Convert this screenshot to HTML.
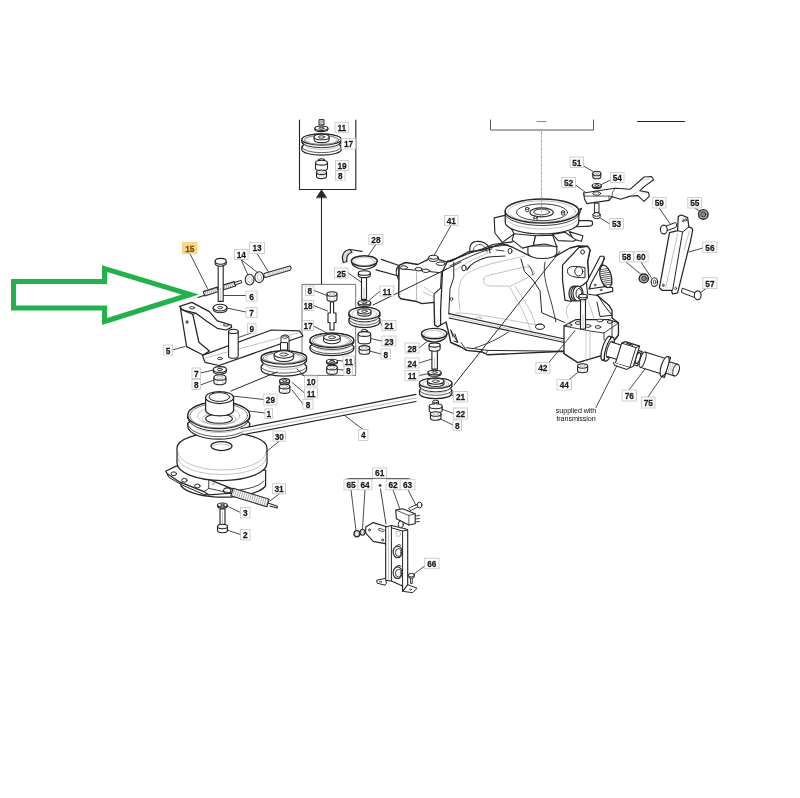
<!DOCTYPE html>
<html><head><meta charset="utf-8"><style>
html,body{margin:0;padding:0;background:#fff;}
svg{display:block;}
text{font-family:"Liberation Sans",sans-serif;font-weight:bold;font-size:9.9px;fill:#1a1a1a;stroke:#1a1a1a;stroke-width:0.25px;letter-spacing:-0.1px;}
.s{font-weight:normal;font-size:7.2px;fill:#111;letter-spacing:-0.1px;stroke:none;}
</style></head><body>
<svg width="800" height="798" viewBox="0 0 800 798">
<rect width="800" height="798" fill="#fff"/>
<g fill="#fff" stroke="#262626" stroke-width="1" stroke-linejoin="round" stroke-linecap="round">
<path d="M299.5,120 V189.5 H355.8 V120" fill="none" stroke="#262626" stroke-width="1.125" />
<path d="M321.5,284 L321.5,196" fill="none" stroke="#262626" stroke-width="1.1"/>
<path d="M316.5,197.5 L321.5,189.8 L326.5,197.5 Z" fill="#262626" stroke="#262626" stroke-width="0.625" />
<path d="M302,375 V284.4 H355.7 V375 Z" fill="none" stroke="#666" stroke-width="0.9" />
<path d="M490.5,120 V130 H593.5 V120" fill="none" stroke="#444" stroke-width="0.9" />
<path d="M537,121.5 L546,121.5" fill="none" stroke="#666" stroke-width="0.8"/>
<path d="M637.5,121.5 L684.6,121.5" fill="none" stroke="#262626" stroke-width="1.1"/>
<path d="M319,120 L319,125 L324,125 L324,120 Z" fill="#ccc" stroke="#262626" stroke-width="1.0" />
<path d="M319,121.5 L324,121.5 M319,123 L324,123" fill="none" stroke="#9a9a9a" stroke-width="0.6" />
<path d="M314.9,128.2 L314.9,129.4 A6.5,2.2 0 0 0 327.9,129.4 L327.9,128.2 Z" fill="#fff" stroke="#262626" stroke-width="1.125" /><ellipse cx="321.4" cy="128.2" rx="6.5" ry="2.2" fill="#fff" stroke="#262626" stroke-width="1.125" /><ellipse cx="321.4" cy="128.2" rx="2.6" ry="0.88" fill="#fff" stroke="#262626" stroke-width="0.875" />
<path d="M301.85,139.5 L301.85,142 L303.83,144.5 L301.85,147 L301.85,149.5 A19.75,5.65 0 0 0 341.35,149.5 L341.35,147 L339.38,144.5 L341.35,142 L341.35,139.5 A19.75,5.65 0 0 0 301.85,139.5 Z" fill="#fff" stroke="#262626" stroke-width="1.25" /><path d="M301.85,142 A19.75,5.65 0 0 0 341.35,142" fill="none" stroke="#262626" stroke-width="0.9375" /><path d="M303.83,144.5 A17.78,5.09 0 0 0 339.38,144.5" fill="none" stroke="#9a9a9a" stroke-width="0.6" /><path d="M301.85,147 A19.75,5.65 0 0 0 341.35,147" fill="none" stroke="#262626" stroke-width="0.75" /><ellipse cx="321.6" cy="139.5" rx="19.75" ry="5.65" fill="#fff" stroke="#262626" stroke-width="1.25" /><ellipse cx="321.6" cy="139.9" rx="17.55" ry="4.45" fill="none" stroke="#262626" stroke-width="0.5625" /><ellipse cx="321.6" cy="140.1" rx="15.8" ry="4.52" fill="none" stroke="#9a9a9a" stroke-width="0.6" /><path d="M314.1,137 L314.1,139.8 A7.5,2.83 0 0 0 329.11,139.8 L329.11,137 Z" fill="#fff" stroke="#262626" stroke-width="1.0625" /><ellipse cx="321.6" cy="137" rx="7.5" ry="2.83" fill="#fff" stroke="#262626" stroke-width="1.0625" /><ellipse cx="321.6" cy="137" rx="3.15" ry="1.19" fill="#fff" stroke="#262626" stroke-width="0.875" />
<path d="M318.5,160.1 L318.5,163 A3,1.4 0 0 0 324.5,163 L324.5,160.1 Z" fill="#fff" stroke="#262626" stroke-width="1.125" /><ellipse cx="321.5" cy="160.1" rx="3" ry="1.4" fill="#fff" stroke="#262626" stroke-width="1.125" />
<path d="M315.5,162.7 L315.5,168.3 A6,2.4 0 0 0 327.5,168.3 L327.5,162.7 Z" fill="#fff" stroke="#262626" stroke-width="1.125" /><ellipse cx="321.5" cy="162.7" rx="6" ry="2.4" fill="#fff" stroke="#262626" stroke-width="1.125" />
<path d="M316.5,172.3 L316.5,176.3 A5,2.3 0 0 0 326.5,176.3 L326.5,172.3 Z" fill="#fff" stroke="#262626" stroke-width="1.125" /><ellipse cx="321.5" cy="172.3" rx="5" ry="2.3" fill="#fff" stroke="#262626" stroke-width="1.125" /><ellipse cx="321.5" cy="172.3" rx="2.5" ry="1.15" fill="#fff" stroke="#9a9a9a" stroke-width="0.6" /><path d="M319.25,174.26 L319.25,178.26 M323.75,174.26 L323.75,178.26" fill="none" stroke="#9a9a9a" stroke-width="0.5" />
<path d="M198,297.5 L204,295.5" fill="none" stroke="#262626" stroke-width="1.25" />
<path d="M204.7,295.99 L218.7,291.49 L217.3,287.11 L203.3,291.61 Z" fill="#fff" stroke="#262626" stroke-width="1.125" />
<path d="M206,291.2 L205,295.4" fill="none" stroke="#555" stroke-width="0.5"/>
<path d="M208.1,290.53 L207.1,294.73" fill="none" stroke="#555" stroke-width="0.5"/>
<path d="M210.2,289.86 L209.2,294.06" fill="none" stroke="#555" stroke-width="0.5"/>
<path d="M212.3,289.19 L211.3,293.39" fill="none" stroke="#555" stroke-width="0.5"/>
<path d="M214.4,288.52 L213.4,292.72" fill="none" stroke="#555" stroke-width="0.5"/>
<path d="M216.5,287.85 L215.5,292.05" fill="none" stroke="#555" stroke-width="0.5"/>
<path d="M223.69,289.79 L235.69,285.99 L234.31,281.61 L222.31,285.41 Z" fill="#fff" stroke="#262626" stroke-width="1.125" />
<path d="M225,285 L224,289.2" fill="none" stroke="#555" stroke-width="0.5"/>
<path d="M227.1,284.33 L226.1,288.53" fill="none" stroke="#555" stroke-width="0.5"/>
<path d="M229.2,283.66 L228.2,287.86" fill="none" stroke="#555" stroke-width="0.5"/>
<path d="M231.3,282.99 L230.3,287.19" fill="none" stroke="#555" stroke-width="0.5"/>
<path d="M233.4,282.32 L232.4,286.52" fill="none" stroke="#555" stroke-width="0.5"/>
<path d="M235.35,284.75 L241.85,282.75 L241.15,280.45 L234.65,282.45 Z" fill="#fff" stroke="#262626" stroke-width="1.0" />
<path d="M218.2,264 L218.2,301.4 L223.2,301.4 L223.2,264 Z" fill="#fff" stroke="#262626" stroke-width="1.125" />
<path d="M220.7,288 L220.7,300" fill="none" stroke="#9a9a9a" stroke-width="0.6"/>
<path d="M215.2,261.3 L215.2,263.3 A5.5,2.9 0 0 0 226.2,263.3 L226.2,261.3 Z" fill="#fff" stroke="#262626" stroke-width="1.125" /><ellipse cx="220.7" cy="261.3" rx="5.5" ry="2.9" fill="#fff" stroke="#262626" stroke-width="1.125" />
<ellipse cx="249.6" cy="279.6" rx="4.4" ry="5.4" fill="#fff" stroke="#262626" stroke-width="1.125" /><ellipse cx="249.9" cy="279.8" rx="2.2" ry="3" fill="#fff" stroke="#9a9a9a" stroke-width="0.6" />
<ellipse cx="259.2" cy="277.2" rx="4.4" ry="5.4" fill="#fff" stroke="#262626" stroke-width="1.125" /><ellipse cx="259.5" cy="277.4" rx="2.2" ry="3" fill="#fff" stroke="#9a9a9a" stroke-width="0.6" />
<path d="M264.8,273.3 L288.8,266.3 A1.6,2 0 0 1 290,270.2 L266,277.2 A1.6,2 0 0 1 264.8,273.3 Z" fill="#eee" stroke="#262626" stroke-width="1.125" />
<path d="M268,272.7 L268.5,276.3" fill="none" stroke="#9a9a9a" stroke-width="0.5"/>
<path d="M270.2,272.06 L270.7,275.66" fill="none" stroke="#9a9a9a" stroke-width="0.5"/>
<path d="M272.4,271.42 L272.9,275.02" fill="none" stroke="#9a9a9a" stroke-width="0.5"/>
<path d="M274.6,270.78 L275.1,274.38" fill="none" stroke="#9a9a9a" stroke-width="0.5"/>
<path d="M276.8,270.14 L277.3,273.74" fill="none" stroke="#9a9a9a" stroke-width="0.5"/>
<path d="M279,269.5 L279.5,273.1" fill="none" stroke="#9a9a9a" stroke-width="0.5"/>
<path d="M281.2,268.86 L281.7,272.46" fill="none" stroke="#9a9a9a" stroke-width="0.5"/>
<path d="M283.4,268.22 L283.9,271.82" fill="none" stroke="#9a9a9a" stroke-width="0.5"/>
<path d="M285.6,267.58 L286.1,271.18" fill="none" stroke="#9a9a9a" stroke-width="0.5"/>
<path d="M287.8,266.94 L288.3,270.54" fill="none" stroke="#9a9a9a" stroke-width="0.5"/>
<path d="M213.2,307.6 L213.2,309.4 A6.9,3.4 0 0 0 227,309.4 L227,307.6 Z" fill="#fff" stroke="#262626" stroke-width="1.125" /><ellipse cx="220.1" cy="307.6" rx="6.9" ry="3.4" fill="#fff" stroke="#262626" stroke-width="1.125" /><ellipse cx="220.1" cy="307.6" rx="2.42" ry="1.19" fill="#fff" stroke="#262626" stroke-width="0.875" />
<path d="M202.4,355.4 L271.5,330 L299.5,330.9 L303,336 L219,365.5 L205,362.4 Z" fill="#fff" stroke="#262626" stroke-width="1.25" />
<path d="M205,358 L300,332.5" fill="none" stroke="#9a9a9a" stroke-width="0.6"/>
<ellipse cx="220" cy="358.5" rx="2.6" ry="1.2" fill="#fff" stroke="#262626" stroke-width="0.875" />
<path d="M179.6,306.4 L191.9,302.4 L209.4,311.6 L217.3,320.9 L231.3,325.1 L231.6,327.4 L226,330 L217.3,328.3 L206.75,321.25 L196.25,313.4 L182.25,309.9 Z" fill="#fff" stroke="#262626" stroke-width="1.25" />
<path d="M180.5,308.5 L182.25,309.9 L192.75,314.25 L198.9,342.25 L209.4,351 L203,355 L186.6,346.6 Z" fill="#fff" stroke="#262626" stroke-width="1.25" />
<path d="M192.75,314.25 L196.25,313.4" fill="none" stroke="#262626" stroke-width="0.8800000000000001"/>
<ellipse cx="192" cy="307.8" rx="2.6" ry="1.2" fill="#fff" stroke="#262626" stroke-width="0.875" />
<ellipse cx="226" cy="325" rx="2.6" ry="1.2" fill="#fff" stroke="#262626" stroke-width="0.875" />
<ellipse cx="187" cy="322" rx="0.9" ry="1.5" fill="#fff" stroke="#262626" stroke-width="0.875" />
<path d="M228.6,331.4 L228.6,356.2 A4.8,2.1 0 0 0 238.2,356.2 L238.2,331.4 Z" fill="#fff" stroke="#262626" stroke-width="1.125" /><ellipse cx="233.4" cy="331.4" rx="4.8" ry="2.1" fill="#fff" stroke="#262626" stroke-width="1.125" />
<path d="M281,355 L281,338 A4,2.5 0 0 1 289,337 L289,355 Z" fill="#fff" stroke="#262626" stroke-width="1.0" />
<ellipse cx="285" cy="337.2" rx="2.6" ry="1.2" fill="#fff" stroke="#262626" stroke-width="0.75" />
<path d="M280.5,343 L280.5,350 L287.5,350 L287.5,343 Z" fill="#fff" stroke="#262626" stroke-width="1.0" />
<path d="M213.3,369.5 L213.3,371.3 A6.6,2.9 0 0 0 226.5,371.3 L226.5,369.5 Z" fill="#fff" stroke="#262626" stroke-width="1.125" /><ellipse cx="219.9" cy="369.5" rx="6.6" ry="2.9" fill="#fff" stroke="#262626" stroke-width="1.125" /><ellipse cx="219.9" cy="369.5" rx="2.64" ry="1.16" fill="#fff" stroke="#262626" stroke-width="0.875" />
<path d="M213.9,377.5 L213.9,382 A6,2.8 0 0 0 225.9,382 L225.9,377.5 Z" fill="#fff" stroke="#262626" stroke-width="1.125" /><ellipse cx="219.9" cy="377.5" rx="6" ry="2.8" fill="#fff" stroke="#262626" stroke-width="1.125" /><ellipse cx="219.9" cy="377.5" rx="3" ry="1.4" fill="#fff" stroke="#9a9a9a" stroke-width="0.6" /><path d="M217.2,379.88 L217.2,384.38 M222.6,379.88 L222.6,384.38" fill="none" stroke="#9a9a9a" stroke-width="0.5" />
<path d="M261.2,357.5 L261.2,360.5 L263.47,363.5 L261.2,366.5 L261.2,369.5 A22.7,6.6 0 0 0 306.6,369.5 L306.6,366.5 L304.33,363.5 L306.6,360.5 L306.6,357.5 A22.7,6.6 0 0 0 261.2,357.5 Z" fill="#fff" stroke="#262626" stroke-width="1.25" /><path d="M261.2,360.5 A22.7,6.6 0 0 0 306.6,360.5" fill="none" stroke="#262626" stroke-width="0.9375" /><path d="M263.47,363.5 A20.43,5.94 0 0 0 304.33,363.5" fill="none" stroke="#9a9a9a" stroke-width="0.6" /><path d="M261.2,366.5 A22.7,6.6 0 0 0 306.6,366.5" fill="none" stroke="#262626" stroke-width="0.75" /><ellipse cx="283.9" cy="357.5" rx="22.7" ry="6.6" fill="#fff" stroke="#262626" stroke-width="1.25" /><ellipse cx="283.9" cy="357.9" rx="20.5" ry="5.4" fill="none" stroke="#262626" stroke-width="0.5625" /><ellipse cx="283.9" cy="358.1" rx="18.16" ry="5.28" fill="none" stroke="#9a9a9a" stroke-width="0.6" /><path d="M274.14,354.5 L274.14,357.8 A9.76,3.7 0 0 0 293.66,357.8 L293.66,354.5 Z" fill="#fff" stroke="#262626" stroke-width="1.0625" /><ellipse cx="283.9" cy="354.5" rx="9.76" ry="3.7" fill="#fff" stroke="#262626" stroke-width="1.0625" /><ellipse cx="283.9" cy="354.5" rx="4.1" ry="1.55" fill="#fff" stroke="#262626" stroke-width="0.875" />
<path d="M279.6,380.8 L279.6,382.2 A5,2.2 0 0 0 289.6,382.2 L289.6,380.8 Z" fill="#fff" stroke="#262626" stroke-width="1.125" /><ellipse cx="284.6" cy="380.8" rx="5" ry="2.2" fill="#fff" stroke="#262626" stroke-width="1.125" /><ellipse cx="284.6" cy="380.8" rx="2.25" ry="0.99" fill="#fff" stroke="#262626" stroke-width="0.875" />
<path d="M279.3,386.5 L279.3,391 A5.3,2.4 0 0 0 289.9,391 L289.9,386.5 Z" fill="#fff" stroke="#262626" stroke-width="1.125" /><ellipse cx="284.6" cy="386.5" rx="5.3" ry="2.4" fill="#fff" stroke="#262626" stroke-width="1.125" /><ellipse cx="284.6" cy="386.5" rx="2.65" ry="1.2" fill="#fff" stroke="#9a9a9a" stroke-width="0.6" /><path d="M282.22,388.54 L282.22,393.04 M286.99,388.54 L286.99,393.04" fill="none" stroke="#9a9a9a" stroke-width="0.5" />
<path d="M327,294 L327,299 A5,2.3 0 0 0 337,299 L337,294 Z" fill="#fff" stroke="#262626" stroke-width="1.125" /><ellipse cx="332" cy="294" rx="5" ry="2.3" fill="#fff" stroke="#262626" stroke-width="1.125" /><ellipse cx="332" cy="294" rx="2.5" ry="1.15" fill="#fff" stroke="#9a9a9a" stroke-width="0.6" /><path d="M329.75,295.95 L329.75,300.95 M334.25,295.95 L334.25,300.95" fill="none" stroke="#9a9a9a" stroke-width="0.5" />
<path d="M330.4,302 V313 H328 V322.5 H330 V330 H334 V322.5 H336 V313 H333.6 V302 Z" fill="#fff" stroke="#262626" stroke-width="1.125" />
<path d="M310,340.25 L310,342.25 L312.19,344.35 L310,346.45 L310,348.45 A21.9,7.25 0 0 0 353.8,348.45 L353.8,346.45 L351.61,344.35 L353.8,342.25 L353.8,340.25 A21.9,7.25 0 0 0 310,340.25 Z" fill="#fff" stroke="#262626" stroke-width="1.25" /><path d="M310,342.25 A21.9,7.25 0 0 0 353.8,342.25" fill="none" stroke="#262626" stroke-width="0.9375" /><path d="M312.19,344.35 A19.71,6.53 0 0 0 351.61,344.35" fill="none" stroke="#9a9a9a" stroke-width="0.6" /><path d="M310,346.45 A21.9,7.25 0 0 0 353.8,346.45" fill="none" stroke="#262626" stroke-width="0.75" /><ellipse cx="331.9" cy="340.25" rx="21.9" ry="7.25" fill="#fff" stroke="#262626" stroke-width="1.25" /><ellipse cx="331.9" cy="340.65" rx="19.7" ry="6.05" fill="none" stroke="#262626" stroke-width="0.5625" /><ellipse cx="331.9" cy="340.85" rx="17.52" ry="5.8" fill="none" stroke="#9a9a9a" stroke-width="0.6" /><path d="M323.58,337.25 L323.58,340.55 A8.32,3.26 0 0 0 340.22,340.55 L340.22,337.25 Z" fill="#fff" stroke="#262626" stroke-width="1.0625" /><ellipse cx="331.9" cy="337.25" rx="8.32" ry="3.26" fill="#fff" stroke="#262626" stroke-width="1.0625" /><ellipse cx="331.9" cy="337.25" rx="3.5" ry="1.37" fill="#fff" stroke="#262626" stroke-width="0.875" />
<path d="M326.5,361.3 L326.5,362.5 A5.5,2 0 0 0 337.5,362.5 L337.5,361.3 Z" fill="#fff" stroke="#262626" stroke-width="1.125" /><ellipse cx="332" cy="361.3" rx="5.5" ry="2" fill="#fff" stroke="#262626" stroke-width="1.125" /><ellipse cx="332" cy="361.3" rx="2.48" ry="0.9" fill="#fff" stroke="#262626" stroke-width="0.875" />
<path d="M326.7,367.5 L326.7,372 A5.3,2.4 0 0 0 337.3,372 L337.3,367.5 Z" fill="#fff" stroke="#262626" stroke-width="1.125" /><ellipse cx="332" cy="367.5" rx="5.3" ry="2.4" fill="#fff" stroke="#262626" stroke-width="1.125" /><ellipse cx="332" cy="367.5" rx="2.65" ry="1.2" fill="#fff" stroke="#9a9a9a" stroke-width="0.6" /><path d="M329.62,369.54 L329.62,374.04 M334.38,369.54 L334.38,374.04" fill="none" stroke="#9a9a9a" stroke-width="0.5" />
<path d="M231,391 L277,372" fill="none" stroke="#262626" stroke-width="0.9900000000000001"/>
<path d="M181,470 L181,486 A44,15.5 0 0 0 265.6,486 L265.6,470 Z" fill="#fff" stroke="#262626" stroke-width="1.25" />
<path d="M183,481 A42,14 0 0 0 264,481" fill="none" stroke="#262626" stroke-width="0.875" />
<path d="M165.7,471.3 L175.4,466.4 L178,465.8 C185,470 195,475 208.75,479.4 L233.1,489.2 L237,491 L231.5,493.25 L208.75,494.9 L203.9,491.6 L179.5,481.9 L167.3,473.75 Z" fill="#fff" stroke="#262626" stroke-width="1.25" />
<path d="M167.3,473.75 L168.5,477 L181,484.5 L203.9,494.5 L208.75,494.9" fill="none" stroke="#262626" stroke-width="1.0" />
<path d="M208.75,479.4 L208.75,488.4 L203.9,491.6 M208.75,488.4 L231.5,493.25" fill="none" stroke="#262626" stroke-width="0.875" />
<ellipse cx="173.8" cy="473.75" rx="2.7" ry="1.9" fill="#fff" stroke="#262626" stroke-width="1.0" />
<ellipse cx="184.4" cy="480.25" rx="2.7" ry="1.9" fill="#fff" stroke="#262626" stroke-width="1.0" />
<ellipse cx="197.4" cy="486" rx="2.7" ry="1.9" fill="#fff" stroke="#262626" stroke-width="1.0" />
<ellipse cx="213" cy="484" rx="1.4" ry="0.9" fill="#fff" stroke="#9a9a9a" stroke-width="0.6" />
<path d="M177,448 L177,463 A45,17.5 0 0 0 267,463 L267,448 A45,15.7 0 0 0 177,448 Z" fill="#fff" stroke="#262626" stroke-width="1.25" />
<path d="M178,452 A44,18 0 0 0 266,452" fill="none" stroke="#9a9a9a" stroke-width="0.6" />
<path d="M178,458 A44,16.5 0 0 0 266,458" fill="none" stroke="#9a9a9a" stroke-width="0.6" />
<ellipse cx="221.5" cy="446" rx="10.5" ry="4.5" fill="#fff" stroke="#262626" stroke-width="1.25" />
<path d="M212,447.5 A9.5,3.5 0 0 1 231,447.5" fill="none" stroke="#9a9a9a" stroke-width="0.6" />
<path d="M230.83,495.83 L266.83,506.83 L269.17,499.17 L233.17,488.17 Z" fill="#fff" stroke="#262626" stroke-width="1.125" />
<path d="M234.6,488.7 L232.4,496.3" fill="none" stroke="#555" stroke-width="0.5"/>
<path d="M236.7,489.34 L234.5,496.94" fill="none" stroke="#555" stroke-width="0.5"/>
<path d="M238.8,489.98 L236.6,497.58" fill="none" stroke="#555" stroke-width="0.5"/>
<path d="M240.9,490.62 L238.7,498.22" fill="none" stroke="#555" stroke-width="0.5"/>
<path d="M243,491.26 L240.8,498.86" fill="none" stroke="#555" stroke-width="0.5"/>
<path d="M245.1,491.9 L242.9,499.5" fill="none" stroke="#555" stroke-width="0.5"/>
<path d="M247.2,492.54 L245,500.14" fill="none" stroke="#555" stroke-width="0.5"/>
<path d="M249.3,493.18 L247.1,500.78" fill="none" stroke="#555" stroke-width="0.5"/>
<path d="M251.4,493.82 L249.2,501.42" fill="none" stroke="#555" stroke-width="0.5"/>
<path d="M253.5,494.46 L251.3,502.06" fill="none" stroke="#555" stroke-width="0.5"/>
<path d="M255.6,495.1 L253.4,502.7" fill="none" stroke="#555" stroke-width="0.5"/>
<path d="M257.7,495.74 L255.5,503.34" fill="none" stroke="#555" stroke-width="0.5"/>
<path d="M259.8,496.38 L257.6,503.98" fill="none" stroke="#555" stroke-width="0.5"/>
<path d="M261.9,497.02 L259.7,504.62" fill="none" stroke="#555" stroke-width="0.5"/>
<path d="M264,497.66 L261.8,505.26" fill="none" stroke="#555" stroke-width="0.5"/>
<path d="M266.1,498.3 L263.9,505.9" fill="none" stroke="#555" stroke-width="0.5"/>
<path d="M268.2,498.94 L266,506.54" fill="none" stroke="#555" stroke-width="0.5"/>
<path d="M223.4,490.8 A2.5,1.8 0 0 1 231,490.5 A2.5,1.8 0 0 1 223.4,490.8" fill="none" stroke="#262626" stroke-width="1.125" />
<path d="M268,503 L276,505.8 A1.6,1.3 0 0 1 277,508 L270,506" fill="none" stroke="#262626" stroke-width="1.125" />
<path d="M217.6,505 L217.6,506.2 A4.8,2 0 0 0 227.2,506.2 L227.2,505 Z" fill="#fff" stroke="#262626" stroke-width="1.125" /><ellipse cx="222.4" cy="505" rx="4.8" ry="2" fill="#fff" stroke="#262626" stroke-width="1.125" /><ellipse cx="222.4" cy="505" rx="1.92" ry="0.8" fill="#fff" stroke="#262626" stroke-width="0.875" />
<path d="M220,509 V526 H225 V509 Z" fill="#fff" stroke="#262626" stroke-width="1.125" />
<path d="M222.5,512 L222.5,525" fill="none" stroke="#9a9a9a" stroke-width="0.6"/>
<path d="M217.5,526.5 L217.5,530.5 A5,2.2 0 0 0 227.5,530.5 L227.5,526.5 Z" fill="#fff" stroke="#262626" stroke-width="1.125" /><ellipse cx="222.5" cy="526.5" rx="5" ry="2.2" fill="#fff" stroke="#262626" stroke-width="1.125" />
<path d="M187.75,415.3 L187.75,417.8 L190.85,420.55 L187.75,423.3 L187.75,425.8 A31,13.4 0 0 0 249.75,425.8 L249.75,423.3 L246.65,420.55 L249.75,417.8 L249.75,415.3 A31,13.4 0 0 0 187.75,415.3 Z" fill="#fff" stroke="#262626" stroke-width="1.25" /><path d="M187.75,417.8 A31,13.4 0 0 0 249.75,417.8" fill="none" stroke="#262626" stroke-width="0.9375" /><path d="M190.85,420.55 A27.9,12.06 0 0 0 246.65,420.55" fill="none" stroke="#9a9a9a" stroke-width="0.6" /><path d="M187.75,423.3 A31,13.4 0 0 0 249.75,423.3" fill="none" stroke="#262626" stroke-width="0.75" /><ellipse cx="218.75" cy="415.3" rx="31" ry="13.4" fill="#fff" stroke="#262626" stroke-width="1.25" /><ellipse cx="218.75" cy="415.7" rx="28.8" ry="12.2" fill="none" stroke="#262626" stroke-width="0.5625" /><ellipse cx="218.75" cy="415.9" rx="21.08" ry="9.11" fill="none" stroke="#9a9a9a" stroke-width="0.6" />
<ellipse cx="219" cy="418.75" rx="17" ry="5.6" fill="none" stroke="#9a9a9a" stroke-width="0.6" />
<ellipse cx="219" cy="418.75" rx="13.4" ry="4.5" fill="#fff" stroke="#262626" stroke-width="1.125" />
<path d="M205.6,397.5 L205.6,410 A14,6 0 0 0 233.6,410 L233.6,397.5 Z" fill="#fff" stroke="#262626" stroke-width="1.25" />
<ellipse cx="219.6" cy="397.5" rx="14" ry="6" fill="#fff" stroke="#262626" stroke-width="1.25" />
<ellipse cx="219.3" cy="397" rx="10.3" ry="4.4" fill="#fff" stroke="#262626" stroke-width="1.0" />
<path d="M241,428.5 L416,394.4 L416,401.5 L244,434.5 Z" fill="#fff" stroke="none" stroke-width="0" />
<path d="M241,428.5 L416,394.4 M244,434.5 L416,401.5" fill="none" stroke="#262626" stroke-width="1.25" />
<path d="M243,431.5 L416,398" fill="none" stroke="#9a9a9a" stroke-width="0.7"/>
<path d="M381.3,259.3 L399,265.5 L398.7,276 L376,269.8" fill="#fff" stroke="#262626" stroke-width="1.25" />
<path d="M399,265.5 C396,268 395,273 398.7,280" fill="none" stroke="#262626" stroke-width="1.125" />
<path d="M399.1,265.4 L405.6,262.5 L417.8,264.5 L427.6,259.7 L430,256.4 L437.3,256.4 L439,259.7 L447.1,262.1 L452,260.9 L468,252 L482.5,250 L502.5,243.75 L512,247 L530,256 L556,256 L570,248 L578,246 L587.6,246.3 L590.1,250 L588.9,255 L587.6,261.3 L588.9,280.2 L590,290 L598,296 L608.9,305.2 L612,310.25 L612,318 L618.4,322.75 L618.4,335 L602,355.25 L577.75,362.5 L564,353.6 L564.5,351.25 L487.5,354.75 L482,352 L466.5,350.4 L461,347 L450.75,342.5 L449,334 L446,322 L440.6,325 L437.5,326.8 L434.6,325 L434.1,302.4 L421.9,303.6 L415.4,301.2 L400.7,298.7 L398.7,296.3 Z" fill="#fff" stroke="#262626" stroke-width="1.375" />
<path d="M399.9,268.6 L440.6,272.7 L447.1,268.6" fill="none" stroke="#262626" stroke-width="1.0" />
<path d="M416.6,271.9 L416.6,300.4" fill="none" stroke="#9a9a9a" stroke-width="0.7"/>
<path d="M428.8,257.2 L428.8,259.5 A4.5,2 0 0 0 437.8,259.5 L437.8,257.2 Z" fill="#fff" stroke="#262626" stroke-width="1.0" /><ellipse cx="433.3" cy="257.2" rx="4.5" ry="2" fill="#fff" stroke="#262626" stroke-width="1.0" />
<ellipse cx="404" cy="267.5" rx="3.6" ry="1.7" fill="#fff" stroke="#262626" stroke-width="1.0" />
<ellipse cx="418.6" cy="269.2" rx="3.6" ry="1.7" fill="#fff" stroke="#262626" stroke-width="1.0" />
<ellipse cx="425.9" cy="270.8" rx="3.6" ry="1.7" fill="#fff" stroke="#262626" stroke-width="1.0" />
<ellipse cx="440.6" cy="263.7" rx="4.5" ry="1.7" fill="#fff" stroke="#262626" stroke-width="1.0" />
<path d="M434.1,302.4 L434.1,293.9 L440.6,288.2 L441.4,273.5" fill="none" stroke="#262626" stroke-width="1.125" />
<path d="M423,292 L434,297 M424,287 L434,293.9" fill="none" stroke="#9a9a9a" stroke-width="0.6" />
<path d="M447.5,261.25 L442.5,271.25 L440.6,310 L440.6,325" fill="none" stroke="#262626" stroke-width="1.25" />
<path d="M453.75,262.5 L453.75,277.5 L450,288.75 L448.75,314" fill="none" stroke="#262626" stroke-width="1.0" />
<ellipse cx="451.5" cy="299" rx="1.3" ry="1.6" fill="#fff" stroke="#262626" stroke-width="0.75" />
<path d="M447.5,261.25 C455,259 462,256 470,253 L482,249 L493,244.5 L512.5,241.9" fill="none" stroke="#262626" stroke-width="1.25" />
<path d="M450,266 C458,262 470,256 484,251 L492,249" fill="none" stroke="#262626" stroke-width="0.875" />
<path d="M455,270 C463,265 475,258 488,253" fill="none" stroke="#9a9a9a" stroke-width="0.6" />
<path d="M467,270 C470,264 477,260 488,257 L505,256" fill="none" stroke="#262626" stroke-width="1.125" />
<ellipse cx="464" cy="268" rx="2.2" ry="2.8" fill="#fff" stroke="#262626" stroke-width="1.0" />
<ellipse cx="510" cy="251" rx="2" ry="2.6" fill="#fff" stroke="#262626" stroke-width="1.0" />
<path d="M470,252 C469,246 471,242 476,241.5 C481,241 486,243 489,247 L490,253" fill="none" stroke="#262626" stroke-width="1.125" />
<path d="M473,252 C473,247 476,244.5 480,244.5 C484,245 486,248 487,252" fill="none" stroke="#262626" stroke-width="0.75" />
<path d="M489,247 L508,245 M496,250 L504,251" fill="none" stroke="#262626" stroke-width="0.875" />
<path d="M460,310 C458,295 458,285 462,279 C466,272 475,269 490,264 L525,256" fill="none" stroke="#9a9a9a" stroke-width="0.6" />
<path d="M483.75,279 C483,284 486,286 492,286 L510,286.25 L525,279 L535,273 C532,268 528,266 522,267.5 L490,275 C486,276 484,277 483.75,279 Z" fill="none" stroke="#9a9a9a" stroke-width="0.6" />
<path d="M510,287.5 L522.5,310 L532,333 M515,286 L530,310 L538,330" fill="none" stroke="#9a9a9a" stroke-width="0.6" />
<path d="M456,313 C470,312 520,322 541.75,326" fill="none" stroke="#9a9a9a" stroke-width="0.6" />
<path d="M521,259 L524.5,271.5 L533,280 L540,290.75 L541.75,312.75 L564.5,322.4" fill="none" stroke="#262626" stroke-width="1.0" />
<path d="M545,262 C542,275 548,290 552,305 L556,322" fill="none" stroke="#262626" stroke-width="0.875" />
<path d="M528,265 C530,266 532,270 533,275" fill="none" stroke="#262626" stroke-width="0.875" />
<path d="M449,313.6 L564.5,339 M449,318 L564.5,342.5" fill="none" stroke="#262626" stroke-width="1.125" />
<path d="M449,315.8 L564.5,340.8" fill="none" stroke="#9a9a9a" stroke-width="0.5" />
<path d="M466.5,347.75 L487.5,350.4 L564.5,351.25" fill="none" stroke="#262626" stroke-width="1.0" />
<path d="M475,347.75 C485,345 500,338 508.5,332" fill="none" stroke="#262626" stroke-width="0.875" />
<path d="M450.75,330 L457.75,342.5 L454,341 M450.75,330 L453,337 M455,334 L457.75,342.5" fill="none" stroke="#262626" stroke-width="1.0" />
<path d="M461,342.5 L466.5,350.4 M482,350.4 C482,354 487.5,355 487.5,350.4" fill="none" stroke="#262626" stroke-width="0.875" />
<ellipse cx="540" cy="326.75" rx="4.5" ry="2.6" fill="#fff" stroke="#262626" stroke-width="1.0" />
<path d="M536,326 A4,2 0 0 1 544,326" fill="none" stroke="#262626" stroke-width="0.75" />
<ellipse cx="478.75" cy="318" rx="2.6" ry="1.2" fill="#fff" stroke="#9a9a9a" stroke-width="0.6" />
<path d="M564,326 L576,319.5 L608.6,319.5 L618.4,322.75 L618.4,335 L602,355.25 L577.75,362.5 L564,353.6 Z" fill="#fff" stroke="#262626" stroke-width="1.25" />
<path d="M564,326 L590,331 L604,333 L618.4,323" fill="none" stroke="#262626" stroke-width="0.875" />
<path d="M590,331 L590,360" fill="none" stroke="#9a9a9a" stroke-width="0.6"/>
<path d="M586,331 L586,361" fill="none" stroke="#9a9a9a" stroke-width="0.5"/>
<ellipse cx="569" cy="325" rx="2.8" ry="1.4" fill="#fff" stroke="#262626" stroke-width="0.875" />
<ellipse cx="578" cy="323" rx="2.8" ry="1.4" fill="#fff" stroke="#262626" stroke-width="0.875" />
<ellipse cx="588" cy="326" rx="2.8" ry="1.4" fill="#fff" stroke="#262626" stroke-width="0.875" />
<ellipse cx="598" cy="327" rx="2.8" ry="1.4" fill="#fff" stroke="#262626" stroke-width="0.875" />
<ellipse cx="610" cy="322" rx="2.8" ry="1.4" fill="#fff" stroke="#262626" stroke-width="0.875" />
<ellipse cx="600" cy="320.5" rx="2.8" ry="1.4" fill="#fff" stroke="#262626" stroke-width="0.875" />
<path d="M604,333 L604,340 M612,322 L612,338" fill="none" stroke="#262626" stroke-width="0.875" />
<path d="M597.6,295 L604,305 L612,315.3 L600,316.5 L597,302" fill="none" stroke="#262626" stroke-width="1.0" />
<path d="M588,300 C590,306 592,312 594,318 M571.3,301.5 C566,306 565,312 568,318" fill="none" stroke="#9a9a9a" stroke-width="0.6" />
<path d="M562.5,265.1 L578.8,247.6 L587.6,246.3 L590.1,250 L588.9,255 L587.6,261.3 L588.9,280.2 L582.6,285.2 L575,289 L570,292.7 L571.3,301.5 L565,300.2 L562.5,280.2 Z" fill="#fff" stroke="#262626" stroke-width="1.25" />
<ellipse cx="582.6" cy="252" rx="1.9" ry="2.2" fill="#fff" stroke="#262626" stroke-width="1.0" />
<path d="M567.5,270 C567.5,266 575,265.5 585,267.6 L585,277.6 C575,278 567.5,276 567.5,272 Z" fill="#fff" stroke="#262626" stroke-width="1.0" />
<ellipse cx="578.8" cy="271.4" rx="4" ry="4.6" fill="#fff" stroke="#262626" stroke-width="1.0" />
<path d="M586.4,282.7 L600.2,256.3 L603.9,256.3 L604.5,258.8 L591.4,282.7 L588.9,289 L606.4,286.4 L612.7,287.7 L612.7,291.4 L595.1,295.2 L587.6,294 Z" fill="#fff" stroke="#262626" stroke-width="1.125" />
<ellipse cx="595" cy="285" rx="1" ry="0.8" fill="#fff" stroke="#262626" stroke-width="0.75" />
<ellipse cx="601" cy="290" rx="1" ry="0.8" fill="#fff" stroke="#262626" stroke-width="0.75" />
<path d="M604,258 L602,266" fill="none" stroke="#262626" stroke-width="1.0" />
<g transform="translate(605.8,276.4) rotate(-15)"><ellipse cx="0" cy="0" rx="5.5" ry="11.5" fill="#fff" stroke="#262626" stroke-width="1.25" /><path d="M-4.6,-8 L4.6,-7" fill="none" stroke="#262626" stroke-width="0.66"/><path d="M-4.6,-6 L4.6,-5" fill="none" stroke="#262626" stroke-width="0.66"/><path d="M-4.6,-4 L4.6,-3" fill="none" stroke="#262626" stroke-width="0.66"/><path d="M-4.6,-2 L4.6,-1" fill="none" stroke="#262626" stroke-width="0.66"/><path d="M-4.6,0 L4.6,1" fill="none" stroke="#262626" stroke-width="0.66"/><path d="M-4.6,2 L4.6,3" fill="none" stroke="#262626" stroke-width="0.66"/><path d="M-4.6,4 L4.6,5" fill="none" stroke="#262626" stroke-width="0.66"/><path d="M-4.6,6 L4.6,7" fill="none" stroke="#262626" stroke-width="0.66"/><path d="M-4.6,8 L4.6,9" fill="none" stroke="#262626" stroke-width="0.66"/></g>
<ellipse cx="574" cy="293.5" rx="5" ry="7.5" fill="#fff" stroke="#262626" stroke-width="1.25" />
<ellipse cx="576" cy="293.5" rx="5" ry="7.5" fill="#fff" stroke="#262626" stroke-width="1.125" />
<ellipse cx="578" cy="293.5" rx="5" ry="7.5" fill="#fff" stroke="#262626" stroke-width="1.25" />
<ellipse cx="579" cy="293.5" rx="3" ry="5" fill="#fff" stroke="#262626" stroke-width="1.0" />
<path d="M580.5,296 L580.5,329 L585.5,329 L585.5,296 Z" fill="#fff" stroke="#262626" stroke-width="1.125" />
<path d="M583,315 L583,328" fill="none" stroke="#9a9a9a" stroke-width="0.6"/>
<path d="M578.8,296 L578.8,298 A4.2,1.8 0 0 0 587.2,298 L587.2,296 Z" fill="#fff" stroke="#262626" stroke-width="1.125" /><ellipse cx="583" cy="296" rx="4.2" ry="1.8" fill="#fff" stroke="#262626" stroke-width="1.125" />
<path d="M527.9,246 L527.9,253 A14.4,5.5 0 0 0 556.8,253 L556.8,246 Z" fill="#fff" stroke="#262626" stroke-width="1.125" />
<path d="M494.2,217.9 L505.9,215.1 L508,222.7 L514.1,233.7 L502.4,242.6 L494.9,233 Z" fill="#fff" stroke="#262626" stroke-width="1.125" />
<path d="M569.2,231.6 L582.9,235.8 L581.5,241.3 L573.3,239.2 Z" fill="#fff" stroke="#262626" stroke-width="1.125" />
<path d="M514.1,233.7 L535.5,235.8 L533.4,245.4 L522.4,248.1 L512.1,239.9 Z" fill="#fff" stroke="#262626" stroke-width="1.125" />
<path d="M552.6,234.4 L565,232.3 L576,239.9 L573.3,241.3 L558.2,240.6 Z" fill="#fff" stroke="#262626" stroke-width="1.125" />
<path d="M535.5,235.8 L552.6,235.1 L556.8,247 L545,244 L533.4,245.4 Z" fill="#fff" stroke="#262626" stroke-width="1.125" />
<path d="M577.4,210.3 L581.5,208.25 L578.8,215.1" fill="#fff" stroke="#262626" stroke-width="1.125" />
<path d="M576,220.6 L589.8,220.6 A2.8,2.75 0 0 1 589.8,226.1 L576,226.8 Z" fill="#fff" stroke="#262626" stroke-width="1.125" />
<path d="M505.2,211 L505.2,222 A36.8,12 0 0 0 578.8,222 L578.8,211 Z" fill="#fff" stroke="#262626" stroke-width="1.25" />
<path d="M505.2,213.5 A36.8,12 0 0 0 578.8,213.5" fill="none" stroke="#262626" stroke-width="0.875" />
<path d="M506,217.5 A36,11.5 0 0 0 578,217.5" fill="none" stroke="#9a9a9a" stroke-width="0.6" />
<ellipse cx="542" cy="211" rx="36.8" ry="12" fill="#fff" stroke="#262626" stroke-width="1.375" />
<ellipse cx="542" cy="211.5" rx="33.5" ry="10.6" fill="none" stroke="#9a9a9a" stroke-width="0.6" />
<ellipse cx="542" cy="212.3" rx="25.5" ry="8.4" fill="none" stroke="#262626" stroke-width="0.875" />
<ellipse cx="541.6" cy="212.4" rx="11.7" ry="4.5" fill="#fff" stroke="#262626" stroke-width="1.125" />
<ellipse cx="541.6" cy="212" rx="8" ry="2.9" fill="#fff" stroke="#262626" stroke-width="0.875" />
<path d="M525.6,208.4 L525.6,210.6 A1.6,1.1 0 0 0 528.8,210.6 L528.8,208.4 Z" fill="#fff" stroke="#262626" stroke-width="0.875" /><ellipse cx="527.2" cy="208.4" rx="1.6" ry="1.1" fill="#fff" stroke="#262626" stroke-width="0.875" />
<path d="M561.4,211.8 L561.4,214 A1.6,1.1 0 0 0 564.6,214 L564.6,211.8 Z" fill="#fff" stroke="#262626" stroke-width="0.875" /><ellipse cx="563" cy="211.8" rx="1.6" ry="1.1" fill="#fff" stroke="#262626" stroke-width="0.875" />
<path d="M533.9,217.4 L533.9,219.6 A1.6,1.1 0 0 0 537.1,219.6 L537.1,217.4 Z" fill="#fff" stroke="#262626" stroke-width="0.875" /><ellipse cx="535.5" cy="217.4" rx="1.6" ry="1.1" fill="#fff" stroke="#262626" stroke-width="0.875" />
<path d="M541.5,131 V212" fill="none" stroke="#777" stroke-width="0.6" stroke-dasharray="4,1.5,1,1.5"/>
<g transform="translate(607.4,348.6) rotate(17.4)"><path d="M-1.5,-12.5 L2,-12.5 L2,12.5 L-1.5,12.5 Z" fill="#fff" stroke="#262626" stroke-width="1.125" /><ellipse cx="-1.5" cy="0" rx="3.5" ry="12.5" fill="#fff" stroke="#262626" stroke-width="1.25" /><ellipse cx="2" cy="0" rx="3.5" ry="12.5" fill="#fff" stroke="#262626" stroke-width="1.25" /><ellipse cx="2.5" cy="0" rx="2.4" ry="8.5" fill="#fff" stroke="#262626" stroke-width="1.0" /><path d="M2.5,-7.5 L34,-7.5 L34,7.5 L2.5,7.5" fill="#fff" stroke="#262626" stroke-width="1.125" /><path d="M30,-5.5 L38,-5.5 L38,5.5 L30,5.5 Z" fill="#fff" stroke="#262626" stroke-width="1.125" /><ellipse cx="32" cy="0" rx="2" ry="5.5" fill="#fff" stroke="#262626" stroke-width="1.0" /><path d="M12,-9.5 L15,-12 L30,-12 L30,9 L27,11.5 L12,11.5 Z" fill="#fff" stroke="#262626" stroke-width="1.125" /><path d="M12,-9.5 L27,-9.5 L30,-12 M27,-9.5 L27,11.5" fill="none" stroke="#262626" stroke-width="0.875" /><path d="M17,-10.8 L23,-10.8" fill="none" stroke="#262626" stroke-width="1.125" /><path d="M10,11.5 L12,14 L25,14 L27,11.5" fill="#fff" stroke="#262626" stroke-width="1.0" /><path d="M37,-8 L61,-8 L61,8 L37,8 Z" fill="#fff" stroke="#262626" stroke-width="1.125" /><ellipse cx="37" cy="0" rx="2.5" ry="8" fill="#fff" stroke="#262626" stroke-width="1.0" /><path d="M60,-10.5 L63,-10.5 L63,10.5 L60,10.5 Z" fill="#fff" stroke="#262626" stroke-width="1.125" /><ellipse cx="60" cy="0" rx="3.5" ry="10.5" fill="#fff" stroke="#262626" stroke-width="1.125" /><path d="M63,-6 L72,-6 L72,6 L63,6 Z" fill="#fff" stroke="#262626" stroke-width="1.125" /><ellipse cx="72" cy="0" rx="3" ry="6" fill="#fff" stroke="#262626" stroke-width="1.125" /><path d="M65,-6 L65,6 M67,-6 L67,6 M69,-6 L69,6" fill="none" stroke="#9a9a9a" stroke-width="0.5" /></g>
<path d="M577.6,366 L577.6,370.5 A5,2.2 0 0 0 587.6,370.5 L587.6,366 Z" fill="#fff" stroke="#262626" stroke-width="1.125" /><ellipse cx="582.6" cy="366" rx="5" ry="2.2" fill="#fff" stroke="#262626" stroke-width="1.125" /><ellipse cx="582.6" cy="366" rx="2.5" ry="1.1" fill="#fff" stroke="#9a9a9a" stroke-width="0.6" /><path d="M580.35,367.87 L580.35,372.37 M584.85,367.87 L584.85,372.37" fill="none" stroke="#9a9a9a" stroke-width="0.5" />
<path d="M351.4,261 Q352,268.5 364.3,269.5 Q376.6,268.5 377.2,261 Z" fill="#fff" stroke="#262626" stroke-width="1.25" />
<ellipse cx="364.3" cy="261" rx="12.9" ry="5.3" fill="#fff" stroke="#262626" stroke-width="1.375" />
<ellipse cx="364.3" cy="261.5" rx="10.5" ry="4" fill="none" stroke="#9a9a9a" stroke-width="0.6" />
<path d="M343.5,262.5 C341,257 343,250 350,249.5 L352,252.5 C348,253 346,257 347,261.5 Z" fill="#ddd" stroke="#262626" stroke-width="1.25" />
<path d="M350,249.5 L362,251.3" fill="none" stroke="#262626" stroke-width="1.25" />
<path d="M361.5,276 L361.5,299.4 L366.5,299.4 L366.5,276 Z" fill="#fff" stroke="#262626" stroke-width="1.125" />
<path d="M364,288 L364,298" fill="none" stroke="#9a9a9a" stroke-width="0.6"/>
<path d="M358.3,273 L358.3,275.3 A6,2.3 0 0 0 370.3,275.3 L370.3,273 Z" fill="#fff" stroke="#262626" stroke-width="1.125" /><ellipse cx="364.3" cy="273" rx="6" ry="2.3" fill="#fff" stroke="#262626" stroke-width="1.125" />
<path d="M358.1,302.7 L358.1,304.2 A6.3,2.2 0 0 0 370.7,304.2 L370.7,302.7 Z" fill="#fff" stroke="#262626" stroke-width="1.125" /><ellipse cx="364.4" cy="302.7" rx="6.3" ry="2.2" fill="#fff" stroke="#262626" stroke-width="1.125" /><ellipse cx="364.4" cy="302.7" rx="2.52" ry="0.88" fill="#fff" stroke="#262626" stroke-width="0.875" />
<path d="M348.9,313.3 L348.9,315.8 L350.45,317.4 L348.9,319 L348.9,321.5 A15.5,6.1 0 0 0 379.9,321.5 L379.9,319 L378.35,317.4 L379.9,315.8 L379.9,313.3 A15.5,6.1 0 0 0 348.9,313.3 Z" fill="#fff" stroke="#262626" stroke-width="1.25" /><path d="M348.9,315.8 A15.5,6.1 0 0 0 379.9,315.8" fill="none" stroke="#262626" stroke-width="0.9375" /><path d="M350.45,317.4 A13.95,5.49 0 0 0 378.35,317.4" fill="none" stroke="#9a9a9a" stroke-width="0.6" /><path d="M348.9,319 A15.5,6.1 0 0 0 379.9,319" fill="none" stroke="#262626" stroke-width="0.75" /><ellipse cx="364.4" cy="313.3" rx="15.5" ry="6.1" fill="#fff" stroke="#262626" stroke-width="1.25" /><ellipse cx="364.4" cy="313.9" rx="12.4" ry="4.88" fill="none" stroke="#9a9a9a" stroke-width="0.6" /><path d="M357.73,311.3 L357.73,313.6 A6.67,2.62 0 0 0 371.06,313.6 L371.06,311.3 Z" fill="#fff" stroke="#262626" stroke-width="1.0625" /><ellipse cx="364.4" cy="311.3" rx="6.67" ry="2.62" fill="#fff" stroke="#262626" stroke-width="1.0625" /><ellipse cx="364.4" cy="311.3" rx="2.8" ry="1.1" fill="#fff" stroke="#262626" stroke-width="0.875" />
<path d="M361.55,330.8 L361.55,334 A2.85,1.3 0 0 0 367.25,334 L367.25,330.8 Z" fill="#fff" stroke="#262626" stroke-width="1.0" /><ellipse cx="364.4" cy="330.8" rx="2.85" ry="1.3" fill="#fff" stroke="#262626" stroke-width="1.0" />
<path d="M358.1,334 L358.1,341.5 A6.3,2.4 0 0 0 370.7,341.5 L370.7,334 Z" fill="#fff" stroke="#262626" stroke-width="1.125" /><ellipse cx="364.4" cy="334" rx="6.3" ry="2.4" fill="#fff" stroke="#262626" stroke-width="1.125" />
<path d="M359.1,347.9 L359.1,351.9 A5.3,2.3 0 0 0 369.7,351.9 L369.7,347.9 Z" fill="#fff" stroke="#262626" stroke-width="1.125" /><ellipse cx="364.4" cy="347.9" rx="5.3" ry="2.3" fill="#fff" stroke="#262626" stroke-width="1.125" /><ellipse cx="364.4" cy="347.9" rx="2.65" ry="1.15" fill="#fff" stroke="#9a9a9a" stroke-width="0.6" /><path d="M362.01,349.85 L362.01,353.85 M366.78,349.85 L366.78,353.85" fill="none" stroke="#9a9a9a" stroke-width="0.5" />
<path d="M373,305 L461,262" fill="none" stroke="#262626" stroke-width="0.9900000000000001"/>
<path d="M421.5,333.6 Q422,341 434.25,342.2 Q446.5,341 447,333.6 Z" fill="#fff" stroke="#262626" stroke-width="1.25" />
<ellipse cx="434.25" cy="333.6" rx="12.75" ry="5.2" fill="#fff" stroke="#262626" stroke-width="1.375" />
<ellipse cx="434.25" cy="334" rx="10" ry="3.6" fill="none" stroke="#9a9a9a" stroke-width="0.6" />
<path d="M431.9,349 L431.9,369.1 L437.4,369.1 L437.4,349 Z" fill="#fff" stroke="#262626" stroke-width="1.125" />
<path d="M434.6,358 L434.6,368" fill="none" stroke="#9a9a9a" stroke-width="0.6"/>
<path d="M429.1,345 L429.1,349.1 A5.5,2.1 0 0 0 440.1,349.1 L440.1,345 Z" fill="#fff" stroke="#262626" stroke-width="1.125" /><ellipse cx="434.6" cy="345" rx="5.5" ry="2.1" fill="#fff" stroke="#262626" stroke-width="1.125" />
<path d="M428.1,372.5 L428.1,374 A6.5,2.3 0 0 0 441.1,374 L441.1,372.5 Z" fill="#fff" stroke="#262626" stroke-width="1.125" /><ellipse cx="434.6" cy="372.5" rx="6.5" ry="2.3" fill="#fff" stroke="#262626" stroke-width="1.125" /><ellipse cx="434.6" cy="372.5" rx="2.6" ry="0.92" fill="#fff" stroke="#262626" stroke-width="0.875" />
<path d="M419.5,383.2 L419.5,386.6 L421.12,388.35 L419.5,390.1 L419.5,393.5 A16.2,5.2 0 0 0 451.9,393.5 L451.9,390.1 L450.28,388.35 L451.9,386.6 L451.9,383.2 A16.2,5.2 0 0 0 419.5,383.2 Z" fill="#fff" stroke="#262626" stroke-width="1.25" /><path d="M419.5,386.6 A16.2,5.2 0 0 0 451.9,386.6" fill="none" stroke="#262626" stroke-width="0.9375" /><path d="M421.12,388.35 A14.58,4.68 0 0 0 450.28,388.35" fill="none" stroke="#9a9a9a" stroke-width="0.6" /><path d="M419.5,390.1 A16.2,5.2 0 0 0 451.9,390.1" fill="none" stroke="#262626" stroke-width="0.75" /><ellipse cx="435.7" cy="383.2" rx="16.2" ry="5.2" fill="#fff" stroke="#262626" stroke-width="1.25" /><ellipse cx="435.7" cy="383.8" rx="12.96" ry="4.16" fill="none" stroke="#9a9a9a" stroke-width="0.6" /><path d="M427.44,381.2 L427.44,383.5 A8.26,3.02 0 0 0 443.96,383.5 L443.96,381.2 Z" fill="#fff" stroke="#262626" stroke-width="1.0625" /><ellipse cx="435.7" cy="381.2" rx="8.26" ry="3.02" fill="#fff" stroke="#262626" stroke-width="1.0625" /><ellipse cx="435.7" cy="381.2" rx="3.47" ry="1.27" fill="#fff" stroke="#262626" stroke-width="0.875" />
<path d="M432.9,401.5 L432.9,406.3 A2.8,1.3 0 0 0 438.5,406.3 L438.5,401.5 Z" fill="#fff" stroke="#262626" stroke-width="1.0" /><ellipse cx="435.7" cy="401.5" rx="2.8" ry="1.3" fill="#fff" stroke="#262626" stroke-width="1.0" />
<path d="M429.2,406.3 L429.2,410.4 A6.5,2.5 0 0 0 442.2,410.4 L442.2,406.3 Z" fill="#fff" stroke="#262626" stroke-width="1.125" /><ellipse cx="435.7" cy="406.3" rx="6.5" ry="2.5" fill="#fff" stroke="#262626" stroke-width="1.125" />
<path d="M430.4,414 L430.4,418 A5.3,2.3 0 0 0 441,418 L441,414 Z" fill="#fff" stroke="#262626" stroke-width="1.125" /><ellipse cx="435.7" cy="414" rx="5.3" ry="2.3" fill="#fff" stroke="#262626" stroke-width="1.125" /><ellipse cx="435.7" cy="414" rx="2.65" ry="1.15" fill="#fff" stroke="#9a9a9a" stroke-width="0.6" /><path d="M433.31,415.95 L433.31,419.95 M438.08,415.95 L438.08,419.95" fill="none" stroke="#9a9a9a" stroke-width="0.5" />
<path d="M454,385 L560,251.25" fill="none" stroke="#262626" stroke-width="0.9900000000000001"/>
<path d="M592.8,173.5 L592.8,176.5 A4,2.3 0 0 0 600.8,176.5 L600.8,173.5 Z" fill="#f4f4f4" stroke="#262626" stroke-width="1.125" />
<ellipse cx="596.8" cy="173.5" rx="4" ry="2.3" fill="#fff" stroke="#262626" stroke-width="1.125" />
<ellipse cx="596.8" cy="173.5" rx="1.8" ry="1" fill="#ccc" stroke="#9a9a9a" stroke-width="0.5" />
<path d="M592.3,185.5 L592.3,186.5 A4.5,2 0 0 0 601.3,186.5 L601.3,185.5 Z" fill="#fff" stroke="#262626" stroke-width="1.125" /><ellipse cx="596.8" cy="185.5" rx="4.5" ry="2" fill="#fff" stroke="#262626" stroke-width="1.125" /><ellipse cx="596.8" cy="185.5" rx="2.02" ry="0.9" fill="#fff" stroke="#262626" stroke-width="0.875" />
<path d="M583.5,193 L608,189.2 L615.4,188.2 L630.3,189.2 L644.1,177 L651.5,176.5 L653.6,179.7 L644.1,186.6 L639.8,190.8 L648.3,192.4 L649.4,196.1 L644.1,201.4 L637.7,195.6 L630.3,196.1 L620.7,199.3 L612.2,196.7 L609,200.4 L586.7,203.6 L584.6,199.3 Z" fill="#fff" stroke="#262626" stroke-width="1.125" />
<path d="M583.5,193 L584.6,196.1 L609,196.1 L612.2,196.7 M609,196.1 L609,200.4 M615.4,188.2 C612,192 612,194 612.2,196.7" fill="none" stroke="#262626" stroke-width="0.75" />
<path d="M644,180 L650,178.5 M640,191 L644,193 M630.3,196.1 L637,192" fill="none" stroke="#9a9a9a" stroke-width="0.5" />
<ellipse cx="596.8" cy="193.5" rx="4" ry="1.8" fill="#fff" stroke="#262626" stroke-width="1.0" />
<ellipse cx="596.8" cy="193.5" rx="1.8" ry="0.8" fill="#fff" stroke="#9a9a9a" stroke-width="0.5" />
<path d="M594.4,203.6 L594.4,213 L599,213 L599,203.6 Z" fill="#fff" stroke="#262626" stroke-width="1.0" />
<path d="M593,214.5 L593,216.8 A3.6,1.8 0 0 0 600.2,216.8 L600.2,214.5 Z" fill="#fff" stroke="#262626" stroke-width="1.0" /><ellipse cx="596.6" cy="214.5" rx="3.6" ry="1.8" fill="#fff" stroke="#262626" stroke-width="1.0" />
<path d="M664,227 L674.5,222.8 A1.4,2.4 0 0 1 675.8,227.3 L665,231.5 Z" fill="#fff" stroke="#262626" stroke-width="1.0" />
<ellipse cx="663.8" cy="229.5" rx="3.4" ry="4.4" fill="#fff" stroke="#262626" stroke-width="1.125" />
<ellipse cx="703.3" cy="214.4" rx="4.8" ry="4.8" fill="#bbb" stroke="#262626" stroke-width="1.375" /><ellipse cx="703.3" cy="214.4" rx="2.6" ry="2.6" fill="#888" stroke="#262626" stroke-width="0.875" />
<path d="M678.25,216.3 L681.4,215 L687.6,217.6 L688.9,227 L692,228.2 L692.7,230 L690.2,242.6 L687.6,252.7 L677.6,292.8 L672.6,294 L671.3,290.3 L662,290.3 L659.4,287.8 L669.5,232.6 L677.6,230.7 Z" fill="#fff" stroke="#262626" stroke-width="1.25" />
<path d="M677.6,230.7 L682.6,232 L688.9,227 M682.6,232 L672.6,290.3 L671.3,290.3" fill="none" stroke="#262626" stroke-width="1.0" />
<path d="M677.6,233.9 L665.7,287.8" fill="none" stroke="#9a9a9a" stroke-width="0.6"/>
<path d="M689.5,231 L684,250" fill="none" stroke="#9a9a9a" stroke-width="0.6"/>
<ellipse cx="663.2" cy="285.3" rx="0.9" ry="1.3" fill="#fff" stroke="#262626" stroke-width="0.75" />
<ellipse cx="675.7" cy="288.4" rx="0.9" ry="1.3" fill="#fff" stroke="#262626" stroke-width="0.75" />
<ellipse cx="683.3" cy="220.7" rx="0.8" ry="1.2" fill="#fff" stroke="#262626" stroke-width="0.75" />
<ellipse cx="685.8" cy="220" rx="0.8" ry="1.2" fill="#fff" stroke="#262626" stroke-width="0.75" />
<ellipse cx="643.8" cy="278.4" rx="4.6" ry="4.4" fill="#bbb" stroke="#262626" stroke-width="1.375" /><ellipse cx="644" cy="278.4" rx="2.4" ry="2.3" fill="#888" stroke="#262626" stroke-width="0.75" />
<ellipse cx="654.4" cy="282.1" rx="3.2" ry="4.4" fill="#fff" stroke="#262626" stroke-width="1.125" /><ellipse cx="654.6" cy="282.1" rx="1.3" ry="2" fill="#fff" stroke="#262626" stroke-width="0.75" />
<path d="M682.6,288.3 L695.5,293 A1.4,2.3 0 0 1 694.5,297.5 L681.8,292.6 Z" fill="#fff" stroke="#262626" stroke-width="1.0" />
<ellipse cx="697.7" cy="295.3" rx="3.4" ry="4.4" fill="#fff" stroke="#262626" stroke-width="1.125" />
<path d="M380.5,489 L386,524" fill="none" stroke="#262626" stroke-width="0.8800000000000001"/>
<ellipse cx="380" cy="485.5" rx="1" ry="1" fill="#262626" stroke="#262626" stroke-width="0.625" />
<path d="M345,481.5 Q345.5,478.5 348.5,478.5 L408.5,478.5 Q411.5,478.5 412,481.5" fill="none" stroke="#555" stroke-width="1.0" />
<path d="M365.7,527 L373.2,522.6 L387.6,527 L386.4,543.9 L373.2,541.4 L365.7,533.2 Z" fill="#fff" stroke="#262626" stroke-width="1.125" />
<ellipse cx="369.4" cy="530" rx="0.9" ry="1.2" fill="#fff" stroke="#262626" stroke-width="0.75" />
<ellipse cx="382.6" cy="540" rx="0.9" ry="1.2" fill="#fff" stroke="#262626" stroke-width="0.75" />
<path d="M379.5,528.5 L383.5,529.5 A1,1 0 0 1 383,531.5 L379,530.5 A1,1 0 0 1 379.5,528.5 Z" fill="#fff" stroke="#262626" stroke-width="0.75" />
<path d="M377,580.2 L385.7,578.3 L386.4,583.3 L385,585.2 L377.6,583.3 Z" fill="#fff" stroke="#262626" stroke-width="1.0" />
<ellipse cx="380.5" cy="581.8" rx="1" ry="0.6" fill="#fff" stroke="#262626" stroke-width="0.625" />
<path d="M402.6,586.5 L407.7,584.6 L417,588.3 L412.7,592.7 L403.9,591.5 Z" fill="#fff" stroke="#262626" stroke-width="1.0" />
<ellipse cx="410.5" cy="589.5" rx="1" ry="0.6" fill="#fff" stroke="#262626" stroke-width="0.625" />
<path d="M385.7,527 L391.4,525.5 L405.2,528.8 L407.7,530 L407.7,584.6 L402.6,591.5 L402.6,586 L391.4,581 L385.7,580.2 Z" fill="#fff" stroke="#262626" stroke-width="1.125" />
<path d="M391.4,525.5 L391.4,581 M402.6,531 L402.6,586 M391.4,527.8 L402.6,531 L407.7,530" fill="none" stroke="#262626" stroke-width="1.0" />
<path d="M388.5,527 L388.5,580" fill="none" stroke="#9a9a9a" stroke-width="0.6"/>
<ellipse cx="398.3" cy="533.8" rx="2.3" ry="2.8" fill="none" stroke="#9a9a9a" stroke-width="0.6" />
<path d="M396,546 L399,544.5 L401,545.5" fill="none" stroke="#262626" stroke-width="0.875" />
<ellipse cx="397.6" cy="552" rx="4.5" ry="5.8" fill="#fff" stroke="#262626" stroke-width="1.125" />
<ellipse cx="398.3" cy="552.5" rx="2.8" ry="3.8" fill="#fff" stroke="#262626" stroke-width="0.875" />
<path d="M396,566.7 L399,565.2 L401,566.2" fill="none" stroke="#262626" stroke-width="0.875" />
<ellipse cx="397.6" cy="572.7" rx="4.5" ry="5.8" fill="#fff" stroke="#262626" stroke-width="1.125" />
<ellipse cx="398.3" cy="573.2" rx="2.8" ry="3.8" fill="#fff" stroke="#262626" stroke-width="0.875" />
<path d="M395.75,510 L402.6,508.8 L415.2,513.8 L415.2,523.8 L408.9,525 L396.4,518.8 Z" fill="#fff" stroke="#262626" stroke-width="1.125" />
<path d="M395.75,510 L408.9,515.5 L415.2,513.8 M408.9,515.5 L408.9,525" fill="none" stroke="#262626" stroke-width="0.75" />
<path d="M415.5,516 L419.5,515.5 M415.5,519 L419.5,518.5 M415.5,522 L419.5,521.5" fill="none" stroke="#262626" stroke-width="0.875" />
<ellipse cx="400.8" cy="524.4" rx="2.6" ry="3.4" fill="#fff" stroke="#262626" stroke-width="1.0" />
<path d="M409,508 L418,503.8 L419.5,506.2 L410.5,510.5 Z" fill="#fff" stroke="#262626" stroke-width="0.875" />
<ellipse cx="419.6" cy="505" rx="2.4" ry="2.9" fill="#fff" stroke="#262626" stroke-width="1.0" />
<ellipse cx="356.9" cy="533.8" rx="2.9" ry="3.1" fill="#fff" stroke="#262626" stroke-width="1.25" /><ellipse cx="357.1" cy="533.8" rx="1.6" ry="1.8" fill="#fff" stroke="#9a9a9a" stroke-width="0.6" />
<ellipse cx="362.5" cy="532.3" rx="2.4" ry="3" fill="#fff" stroke="#262626" stroke-width="1.125" /><ellipse cx="362.6" cy="532.3" rx="1.3" ry="1.7" fill="#fff" stroke="#9a9a9a" stroke-width="0.6" />
<path d="M410.5,576 L410.5,583.5 L412.3,583.5 L412.3,576 Z" fill="#fff" stroke="#262626" stroke-width="0.875" />
<path d="M408.4,575.2 L408.4,576.5 A3,1.8 0 0 0 414.4,576.5 L414.4,575.2 Z" fill="#fff" stroke="#262626" stroke-width="1.0" /><ellipse cx="411.4" cy="575.2" rx="3" ry="1.8" fill="#fff" stroke="#262626" stroke-width="1.0" /><path d="M190,253.75 L207.5,288.5" fill="none" stroke="#333" stroke-width="0.8800000000000001"/>
<path d="M241,259.5 L248,275" fill="none" stroke="#333" stroke-width="0.8800000000000001"/>
<path d="M241,259.5 L258,273" fill="none" stroke="#333" stroke-width="0.8800000000000001"/>
<path d="M257,253.4 L268.5,272" fill="none" stroke="#333" stroke-width="0.8800000000000001"/>
<path d="M246,295.5 L223.5,295.5" fill="none" stroke="#333" stroke-width="0.8800000000000001"/>
<path d="M246,312 L226.5,308" fill="none" stroke="#333" stroke-width="0.8800000000000001"/>
<path d="M251,333 L238.5,337.5" fill="none" stroke="#333" stroke-width="0.8800000000000001"/>
<path d="M172.5,350 L185,346.5" fill="none" stroke="#333" stroke-width="0.8800000000000001"/>
<path d="M200.5,373 L213.5,370" fill="none" stroke="#333" stroke-width="0.8800000000000001"/>
<path d="M200.5,385 L214,380" fill="none" stroke="#333" stroke-width="0.8800000000000001"/>
<path d="M314,290.5 L327,295.5" fill="none" stroke="#333" stroke-width="0.8800000000000001"/>
<path d="M313.5,305.5 L327.5,311" fill="none" stroke="#333" stroke-width="0.8800000000000001"/>
<path d="M313.5,326 L327,333" fill="none" stroke="#333" stroke-width="0.8800000000000001"/>
<path d="M343,361 L337.5,360.5" fill="none" stroke="#333" stroke-width="0.8800000000000001"/>
<path d="M344,370 L337.5,369.5" fill="none" stroke="#333" stroke-width="0.8800000000000001"/>
<path d="M304.5,376 L297,369" fill="none" stroke="#333" stroke-width="0.8800000000000001"/>
<path d="M304.5,393 L292,382.5" fill="none" stroke="#333" stroke-width="0.8800000000000001"/>
<path d="M303,404 L292,390" fill="none" stroke="#333" stroke-width="0.8800000000000001"/>
<path d="M263.75,399.5 L232,396" fill="none" stroke="#333" stroke-width="0.8800000000000001"/>
<path d="M265,413 L249,411" fill="none" stroke="#333" stroke-width="0.8800000000000001"/>
<path d="M347.5,272.5 L361,282" fill="none" stroke="#333" stroke-width="0.8800000000000001"/>
<path d="M285.5,436 L266,452" fill="none" stroke="#333" stroke-width="0.8800000000000001"/>
<path d="M285.5,489 L270,501" fill="none" stroke="#333" stroke-width="0.8800000000000001"/>
<path d="M240.5,512.5 L227,506" fill="none" stroke="#333" stroke-width="0.8800000000000001"/>
<path d="M240.5,534.5 L227,530" fill="none" stroke="#333" stroke-width="0.8800000000000001"/>
<path d="M363,429.5 L344,415" fill="none" stroke="#333" stroke-width="0.8800000000000001"/>
<path d="M451,225.5 L434,255.5" fill="none" stroke="#333" stroke-width="0.8800000000000001"/>
<path d="M376,244.5 L368,256" fill="none" stroke="#333" stroke-width="0.8800000000000001"/>
<path d="M380,291 L369,300.5" fill="none" stroke="#333" stroke-width="0.8800000000000001"/>
<path d="M382,325.5 L379.5,321" fill="none" stroke="#333" stroke-width="0.8800000000000001"/>
<path d="M382,341 L370.5,338.5" fill="none" stroke="#333" stroke-width="0.8800000000000001"/>
<path d="M381,354 L369.5,351" fill="none" stroke="#333" stroke-width="0.8800000000000001"/>
<path d="M419,348 L427,341.5" fill="none" stroke="#333" stroke-width="0.8800000000000001"/>
<path d="M419,363 L432,359" fill="none" stroke="#333" stroke-width="0.8800000000000001"/>
<path d="M419,375.5 L429.5,373.5" fill="none" stroke="#333" stroke-width="0.8800000000000001"/>
<path d="M453.5,396.5 L449.5,393" fill="none" stroke="#333" stroke-width="0.8800000000000001"/>
<path d="M453.5,413.5 L441.5,409" fill="none" stroke="#333" stroke-width="0.8800000000000001"/>
<path d="M453,425 L440.5,419" fill="none" stroke="#333" stroke-width="0.8800000000000001"/>
<path d="M549,362.4 L575,330.6" fill="none" stroke="#333" stroke-width="0.8800000000000001"/>
<path d="M569,379.6 L578.5,372" fill="none" stroke="#333" stroke-width="0.8800000000000001"/>
<path d="M629,390 L645,369" fill="none" stroke="#333" stroke-width="0.8800000000000001"/>
<path d="M648,397 L663,375" fill="none" stroke="#333" stroke-width="0.8800000000000001"/>
<path d="M596,407.5 L617,365.6" fill="none" stroke="#333" stroke-width="0.8800000000000001"/>
<path d="M351,489.8 L356,530.5" fill="none" stroke="#333" stroke-width="0.8800000000000001"/>
<path d="M365,489.8 L362.5,528.7" fill="none" stroke="#333" stroke-width="0.8800000000000001"/>
<path d="M393,489.8 L400,509.5" fill="none" stroke="#333" stroke-width="0.8800000000000001"/>
<path d="M408,489.8 L416,505.5" fill="none" stroke="#333" stroke-width="0.8800000000000001"/>
<path d="M424.7,566 L414,574" fill="none" stroke="#333" stroke-width="0.8800000000000001"/>
<path d="M583.5,166 L593,171.5" fill="none" stroke="#333" stroke-width="0.8800000000000001"/>
<path d="M610.5,180 L601.5,184.5" fill="none" stroke="#333" stroke-width="0.8800000000000001"/>
<path d="M575.5,185 L585,192" fill="none" stroke="#333" stroke-width="0.8800000000000001"/>
<path d="M609.7,224 L599.5,217.5" fill="none" stroke="#333" stroke-width="0.8800000000000001"/>
<path d="M659,208 L670,223.5" fill="none" stroke="#333" stroke-width="0.8800000000000001"/>
<path d="M695,208 L700.5,211.5" fill="none" stroke="#333" stroke-width="0.8800000000000001"/>
<path d="M702.8,248 L689,252" fill="none" stroke="#333" stroke-width="0.8800000000000001"/>
<path d="M626,262 L640.5,274" fill="none" stroke="#333" stroke-width="0.8800000000000001"/>
<path d="M641,262 L651.5,278" fill="none" stroke="#333" stroke-width="0.8800000000000001"/>
<path d="M706,288.5 L700.5,292.5" fill="none" stroke="#333" stroke-width="0.8800000000000001"/>
</g>
<g style="opacity:0.999">
<rect x="335.0" y="122.3" width="13.7" height="10.0" fill="#fff" stroke="#c4c4c4" stroke-width="0.8"/>
<text transform="translate(341.85,130.80) scale(0.84,1)" text-anchor="middle">11</text>
<rect x="341.5" y="138.5" width="14.0" height="10.5" fill="#fff" stroke="#c4c4c4" stroke-width="0.8"/>
<text transform="translate(348.50,147.25) scale(0.84,1)" text-anchor="middle">17</text>
<rect x="335.4" y="160.4" width="13.3" height="10.0" fill="#fff" stroke="#c4c4c4" stroke-width="0.8"/>
<text transform="translate(342.05,168.90) scale(0.84,1)" text-anchor="middle">19</text>
<rect x="335.4" y="170.4" width="9.6" height="9.8" fill="#fff" stroke="#c4c4c4" stroke-width="0.8"/>
<text transform="translate(340.20,178.80) scale(0.84,1)" text-anchor="middle">8</text>
<rect x="182.5" y="242.5" width="14.5" height="11.2" fill="#fbd684" stroke="#f7cf78" stroke-width="0.8"/>
<text transform="translate(189.75,251.62) scale(0.84,1)" text-anchor="middle" style="fill:#6e5412;stroke:#6e5412">15</text>
<rect x="234.5" y="249.5" width="13.5" height="10.0" fill="#fff" stroke="#c4c4c4" stroke-width="0.8"/>
<text transform="translate(241.25,258.00) scale(0.84,1)" text-anchor="middle">14</text>
<rect x="249.6" y="242.3" width="15.0" height="11.1" fill="#fff" stroke="#c4c4c4" stroke-width="0.8"/>
<text transform="translate(257.10,251.35) scale(0.84,1)" text-anchor="middle">13</text>
<rect x="246.0" y="291.0" width="11.0" height="10.0" fill="#fff" stroke="#c4c4c4" stroke-width="0.8"/>
<text transform="translate(251.50,299.50) scale(0.84,1)" text-anchor="middle">6</text>
<rect x="246.0" y="307.5" width="11.0" height="10.0" fill="#fff" stroke="#c4c4c4" stroke-width="0.8"/>
<text transform="translate(251.50,316.00) scale(0.84,1)" text-anchor="middle">7</text>
<rect x="247.5" y="323.8" width="8.5" height="9.2" fill="#fff" stroke="#c4c4c4" stroke-width="0.8"/>
<text transform="translate(251.75,331.88) scale(0.84,1)" text-anchor="middle">9</text>
<rect x="163.8" y="345.0" width="8.8" height="10.0" fill="#fff" stroke="#c4c4c4" stroke-width="0.8"/>
<text transform="translate(168.12,353.50) scale(0.84,1)" text-anchor="middle">5</text>
<rect x="192.0" y="368.0" width="8.5" height="10.5" fill="#fff" stroke="#c4c4c4" stroke-width="0.8"/>
<text transform="translate(196.25,376.75) scale(0.84,1)" text-anchor="middle">7</text>
<rect x="192.0" y="379.5" width="8.5" height="10.0" fill="#fff" stroke="#c4c4c4" stroke-width="0.8"/>
<text transform="translate(196.25,388.00) scale(0.84,1)" text-anchor="middle">8</text>
<rect x="305.5" y="286.0" width="8.5" height="9.5" fill="#fff" stroke="#c4c4c4" stroke-width="0.8"/>
<text transform="translate(309.75,294.25) scale(0.84,1)" text-anchor="middle">8</text>
<rect x="302.5" y="300.5" width="11.0" height="10.0" fill="#fff" stroke="#c4c4c4" stroke-width="0.8"/>
<text transform="translate(308.00,309.00) scale(0.84,1)" text-anchor="middle">18</text>
<rect x="302.5" y="320.5" width="11.0" height="10.0" fill="#fff" stroke="#c4c4c4" stroke-width="0.8"/>
<text transform="translate(308.00,329.00) scale(0.84,1)" text-anchor="middle">17</text>
<rect x="343.0" y="356.0" width="11.5" height="10.0" fill="#fff" stroke="#c4c4c4" stroke-width="0.8"/>
<text transform="translate(348.75,364.50) scale(0.84,1)" text-anchor="middle">11</text>
<rect x="344.0" y="366.0" width="8.5" height="9.5" fill="#fff" stroke="#c4c4c4" stroke-width="0.8"/>
<text transform="translate(348.25,374.25) scale(0.84,1)" text-anchor="middle">8</text>
<rect x="304.5" y="376.0" width="13.0" height="10.0" fill="#fff" stroke="#c4c4c4" stroke-width="0.8"/>
<text transform="translate(311.00,384.50) scale(0.84,1)" text-anchor="middle">10</text>
<rect x="304.5" y="388.0" width="13.0" height="10.0" fill="#fff" stroke="#c4c4c4" stroke-width="0.8"/>
<text transform="translate(311.00,396.50) scale(0.84,1)" text-anchor="middle">11</text>
<rect x="303.0" y="399.5" width="10.0" height="9.5" fill="#fff" stroke="#c4c4c4" stroke-width="0.8"/>
<text transform="translate(308.00,407.75) scale(0.84,1)" text-anchor="middle">8</text>
<rect x="263.8" y="394.0" width="13.2" height="11.0" fill="#fff" stroke="#c4c4c4" stroke-width="0.8"/>
<text transform="translate(270.38,403.00) scale(0.84,1)" text-anchor="middle">29</text>
<rect x="265.0" y="408.8" width="7.5" height="9.8" fill="#fff" stroke="#c4c4c4" stroke-width="0.8"/>
<text transform="translate(268.75,417.12) scale(0.84,1)" text-anchor="middle">1</text>
<rect x="334.5" y="268.0" width="13.5" height="10.0" fill="#fff" stroke="#c4c4c4" stroke-width="0.8"/>
<text transform="translate(341.25,276.50) scale(0.84,1)" text-anchor="middle">25</text>
<rect x="273.0" y="431.0" width="12.5" height="10.2" fill="#fff" stroke="#c4c4c4" stroke-width="0.8"/>
<text transform="translate(279.25,439.62) scale(0.84,1)" text-anchor="middle">30</text>
<rect x="272.5" y="483.8" width="13.0" height="10.0" fill="#fff" stroke="#c4c4c4" stroke-width="0.8"/>
<text transform="translate(279.00,492.25) scale(0.84,1)" text-anchor="middle">31</text>
<rect x="240.5" y="507.5" width="9.5" height="10.5" fill="#fff" stroke="#c4c4c4" stroke-width="0.8"/>
<text transform="translate(245.25,516.25) scale(0.84,1)" text-anchor="middle">3</text>
<rect x="240.5" y="529.5" width="9.5" height="10.5" fill="#fff" stroke="#c4c4c4" stroke-width="0.8"/>
<text transform="translate(245.25,538.25) scale(0.84,1)" text-anchor="middle">2</text>
<rect x="358.7" y="429.5" width="9.2" height="10.9" fill="#fff" stroke="#c4c4c4" stroke-width="0.8"/>
<text transform="translate(363.30,438.45) scale(0.84,1)" text-anchor="middle">4</text>
<rect x="444.5" y="215.5" width="13.5" height="10.0" fill="#fff" stroke="#c4c4c4" stroke-width="0.8"/>
<text transform="translate(451.25,224.00) scale(0.84,1)" text-anchor="middle">41</text>
<rect x="368.8" y="234.5" width="14.2" height="10.0" fill="#fff" stroke="#c4c4c4" stroke-width="0.8"/>
<text transform="translate(375.88,243.00) scale(0.84,1)" text-anchor="middle">28</text>
<rect x="380.0" y="286.0" width="13.8" height="10.0" fill="#fff" stroke="#c4c4c4" stroke-width="0.8"/>
<text transform="translate(386.88,294.50) scale(0.84,1)" text-anchor="middle">11</text>
<rect x="382.0" y="320.5" width="14.0" height="10.0" fill="#fff" stroke="#c4c4c4" stroke-width="0.8"/>
<text transform="translate(389.00,329.00) scale(0.84,1)" text-anchor="middle">21</text>
<rect x="382.0" y="336.0" width="14.0" height="10.0" fill="#fff" stroke="#c4c4c4" stroke-width="0.8"/>
<text transform="translate(389.00,344.50) scale(0.84,1)" text-anchor="middle">23</text>
<rect x="381.0" y="349.0" width="9.5" height="10.0" fill="#fff" stroke="#c4c4c4" stroke-width="0.8"/>
<text transform="translate(385.75,357.50) scale(0.84,1)" text-anchor="middle">8</text>
<rect x="405.0" y="343.0" width="14.0" height="10.0" fill="#fff" stroke="#c4c4c4" stroke-width="0.8"/>
<text transform="translate(412.00,351.50) scale(0.84,1)" text-anchor="middle">28</text>
<rect x="405.0" y="358.0" width="14.0" height="10.0" fill="#fff" stroke="#c4c4c4" stroke-width="0.8"/>
<text transform="translate(412.00,366.50) scale(0.84,1)" text-anchor="middle">24</text>
<rect x="405.0" y="370.5" width="14.0" height="10.0" fill="#fff" stroke="#c4c4c4" stroke-width="0.8"/>
<text transform="translate(412.00,379.00) scale(0.84,1)" text-anchor="middle">11</text>
<rect x="453.5" y="391.5" width="14.0" height="10.5" fill="#fff" stroke="#c4c4c4" stroke-width="0.8"/>
<text transform="translate(460.50,400.25) scale(0.84,1)" text-anchor="middle">21</text>
<rect x="453.5" y="408.0" width="14.0" height="11.0" fill="#fff" stroke="#c4c4c4" stroke-width="0.8"/>
<text transform="translate(460.50,417.00) scale(0.84,1)" text-anchor="middle">22</text>
<rect x="453.0" y="420.0" width="8.5" height="10.6" fill="#fff" stroke="#c4c4c4" stroke-width="0.8"/>
<text transform="translate(457.25,428.80) scale(0.84,1)" text-anchor="middle">8</text>
<rect x="570.0" y="157.0" width="13.5" height="10.5" fill="#fff" stroke="#c4c4c4" stroke-width="0.8"/>
<text transform="translate(576.75,165.75) scale(0.84,1)" text-anchor="middle">51</text>
<rect x="610.5" y="172.6" width="13.5" height="9.9" fill="#fff" stroke="#c4c4c4" stroke-width="0.8"/>
<text transform="translate(617.25,181.05) scale(0.84,1)" text-anchor="middle">54</text>
<rect x="561.7" y="177.4" width="13.8" height="10.2" fill="#fff" stroke="#c4c4c4" stroke-width="0.8"/>
<text transform="translate(568.60,186.00) scale(0.84,1)" text-anchor="middle">52</text>
<rect x="609.7" y="218.6" width="13.8" height="10.4" fill="#fff" stroke="#c4c4c4" stroke-width="0.8"/>
<text transform="translate(616.60,227.30) scale(0.84,1)" text-anchor="middle">53</text>
<rect x="652.7" y="197.6" width="13.3" height="10.4" fill="#fff" stroke="#c4c4c4" stroke-width="0.8"/>
<text transform="translate(659.35,206.30) scale(0.84,1)" text-anchor="middle">59</text>
<rect x="687.8" y="197.6" width="13.8" height="10.4" fill="#fff" stroke="#c4c4c4" stroke-width="0.8"/>
<text transform="translate(694.70,206.30) scale(0.84,1)" text-anchor="middle">55</text>
<rect x="702.8" y="242.0" width="14.2" height="10.5" fill="#fff" stroke="#c4c4c4" stroke-width="0.8"/>
<text transform="translate(709.90,250.75) scale(0.84,1)" text-anchor="middle">56</text>
<rect x="619.5" y="251.6" width="14.0" height="10.4" fill="#fff" stroke="#c4c4c4" stroke-width="0.8"/>
<text transform="translate(626.50,260.30) scale(0.84,1)" text-anchor="middle">58</text>
<rect x="634.0" y="251.6" width="14.0" height="10.4" fill="#fff" stroke="#c4c4c4" stroke-width="0.8"/>
<text transform="translate(641.00,260.30) scale(0.84,1)" text-anchor="middle">60</text>
<rect x="702.8" y="277.7" width="14.2" height="10.8" fill="#fff" stroke="#c4c4c4" stroke-width="0.8"/>
<text transform="translate(709.90,286.60) scale(0.84,1)" text-anchor="middle">57</text>
<rect x="535.9" y="362.4" width="13.9" height="10.8" fill="#fff" stroke="#c4c4c4" stroke-width="0.8"/>
<text transform="translate(542.85,371.30) scale(0.84,1)" text-anchor="middle">42</text>
<rect x="557.0" y="379.6" width="14.6" height="10.4" fill="#fff" stroke="#c4c4c4" stroke-width="0.8"/>
<text transform="translate(564.30,388.30) scale(0.84,1)" text-anchor="middle">44</text>
<rect x="622.0" y="390.0" width="14.6" height="11.0" fill="#fff" stroke="#c4c4c4" stroke-width="0.8"/>
<text transform="translate(629.30,399.00) scale(0.84,1)" text-anchor="middle">76</text>
<rect x="641.5" y="397.0" width="13.5" height="11.0" fill="#fff" stroke="#c4c4c4" stroke-width="0.8"/>
<text transform="translate(648.25,406.00) scale(0.84,1)" text-anchor="middle">75</text>
<rect x="372.6" y="467.9" width="14.1" height="10.1" fill="#fff" stroke="#c4c4c4" stroke-width="0.8"/>
<text transform="translate(379.65,476.45) scale(0.84,1)" text-anchor="middle">61</text>
<rect x="344.0" y="479.3" width="14.0" height="10.5" fill="#fff" stroke="#c4c4c4" stroke-width="0.8"/>
<text transform="translate(351.00,488.05) scale(0.84,1)" text-anchor="middle">65</text>
<rect x="358.0" y="479.3" width="14.0" height="10.5" fill="#fff" stroke="#c4c4c4" stroke-width="0.8"/>
<text transform="translate(365.00,488.05) scale(0.84,1)" text-anchor="middle">64</text>
<rect x="386.0" y="479.3" width="14.2" height="10.5" fill="#fff" stroke="#c4c4c4" stroke-width="0.8"/>
<text transform="translate(393.10,488.05) scale(0.84,1)" text-anchor="middle">62</text>
<rect x="400.2" y="479.3" width="14.8" height="10.5" fill="#fff" stroke="#c4c4c4" stroke-width="0.8"/>
<text transform="translate(407.60,488.05) scale(0.84,1)" text-anchor="middle">63</text>
<rect x="424.7" y="558.2" width="14.3" height="10.6" fill="#fff" stroke="#c4c4c4" stroke-width="0.8"/>
<text transform="translate(431.85,567.00) scale(0.84,1)" text-anchor="middle">66</text>
</g>
<text class="s" x="576" y="413" text-anchor="middle">supplied with</text>
<text class="s" x="576" y="421" text-anchor="middle">transmission</text>
<path d="M13.5,281.5 H104.5 V268.5 L190.5,294.5 L104.5,321.5 V308 H13.5 Z" fill="none" stroke="#22b14c" stroke-width="5" stroke-linejoin="miter"/>
</svg>
</body></html>
